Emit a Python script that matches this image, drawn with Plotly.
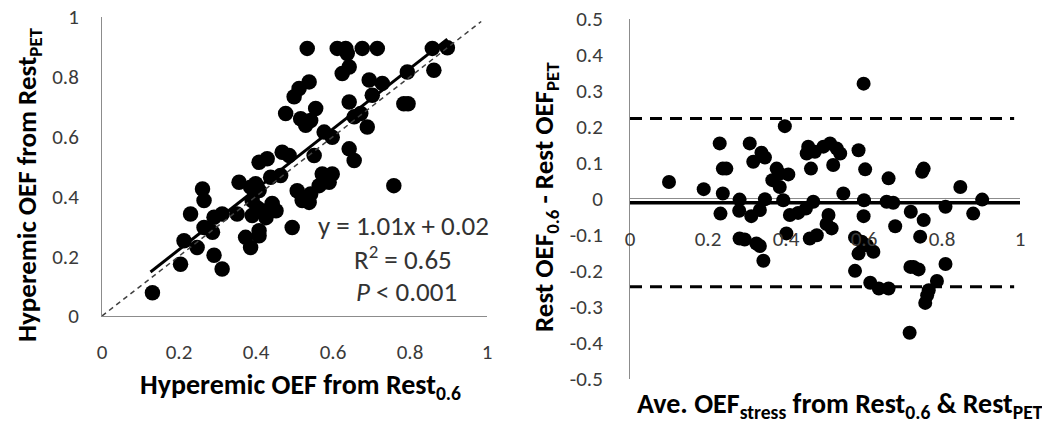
import plotly.graph_objects as go

# ---------------- data ----------------
# Left panel: Hyperemic OEF from Rest0.6 (x) vs from RestPET (y)
left_x = [0.131, 0.204, 0.213, 0.247, 0.230, 0.261, 0.265, 0.265, 0.287, 0.291,
          0.312, 0.291, 0.312, 0.351, 0.356, 0.373, 0.386, 0.390, 0.403, 0.416,
          0.390, 0.426, 0.442, 0.408, 0.408, 0.408, 0.399, 0.408, 0.429, 0.438,
          0.464, 0.442, 0.494, 0.468, 0.486, 0.551, 0.507, 0.520, 0.542, 0.538,
          0.564, 0.590, 0.572, 0.598, 0.642, 0.655, 0.577, 0.598, 0.689, 0.655,
          0.672, 0.516, 0.529, 0.542, 0.477, 0.555, 0.642, 0.784, 0.795, 0.702,
          0.499, 0.512, 0.538, 0.694, 0.728, 0.642, 0.624, 0.793, 0.862, 0.533,
          0.611, 0.633, 0.637, 0.676, 0.715, 0.858, 0.897, 0.758, 0.390, 0.386,
          0.452]
left_y = [0.078, 0.173, 0.252, 0.229, 0.341, 0.425, 0.386, 0.296, 0.280, 0.203,
          0.157, 0.330, 0.341, 0.341, 0.447, 0.263, 0.229, 0.386, 0.362, 0.352,
          0.336, 0.329, 0.362, 0.285, 0.268, 0.420, 0.442, 0.514, 0.526, 0.464,
          0.470, 0.376, 0.296, 0.548, 0.537, 0.537, 0.419, 0.386, 0.408, 0.380,
          0.436, 0.447, 0.475, 0.475, 0.559, 0.520, 0.615, 0.598, 0.632, 0.666,
          0.677, 0.660, 0.638, 0.654, 0.677, 0.694, 0.716, 0.710, 0.710, 0.738,
          0.733, 0.761, 0.783, 0.789, 0.778, 0.833, 0.811, 0.816, 0.822, 0.895,
          0.895, 0.895, 0.878, 0.895, 0.895, 0.895, 0.897, 0.436, 0.430, 0.431,
          0.352]
fit_slope = 1.01
fit_intercept = 0.02
fit_x_range = [0.126, 0.897]
identity_range = [0.0, 0.985]

# Right panel: Bland-Altman
ba_mean = [0.100, 0.189, 0.230, 0.238, 0.247, 0.238, 0.232, 0.281, 0.280, 0.311,
           0.333, 0.346, 0.307, 0.316, 0.337, 0.346, 0.281, 0.294, 0.324, 0.333,
           0.342, 0.397, 0.376, 0.384, 0.365, 0.384, 0.406, 0.393, 0.410, 0.431,
           0.401, 0.457, 0.474, 0.453, 0.464, 0.470, 0.451, 0.461, 0.479, 0.496,
           0.513, 0.530, 0.539, 0.521, 0.509, 0.504, 0.517, 0.547, 0.586, 0.599,
           0.603, 0.600, 0.599, 0.577, 0.594, 0.607, 0.624, 0.586, 0.577, 0.616,
           0.638, 0.663, 0.663, 0.658, 0.675, 0.680, 0.720, 0.744, 0.719, 0.727,
           0.740, 0.717, 0.749, 0.753, 0.753, 0.766, 0.762, 0.757, 0.787, 0.809,
           0.809, 0.847, 0.880, 0.903]
ba_diff = [0.046, 0.026, 0.153, 0.083, 0.083, 0.014, -0.042, -0.003, -0.034, -0.049,
           -0.032, -0.002, 0.153, 0.102, 0.127, 0.114, -0.111, -0.114, -0.125, -0.132,
           -0.173, 0.201, 0.083, 0.069, 0.051, 0.032, 0.067, -0.005, -0.046, -0.040,
           -0.097, 0.144, 0.130, 0.125, 0.083, -0.009, -0.028, -0.111, -0.102, 0.144,
           0.153, 0.139, 0.125, 0.093, -0.046, -0.071, -0.083, 0.014, 0.134, 0.319,
           0.081, -0.005, -0.049, -0.108, -0.120, -0.130, -0.148, -0.153, -0.201, -0.234,
           -0.250, -0.250, 0.056, -0.009, -0.012, -0.077, -0.037, -0.106, -0.190, -0.190,
           -0.197, -0.373, 0.074, 0.083, -0.060, -0.255, -0.269, -0.290, -0.229, -0.023,
           -0.182, 0.032, -0.042, -0.003]
ba_bias = -0.012
ba_upper = 0.222
ba_lower = -0.245

left_ticks = [0, 0.2, 0.4, 0.6, 0.8, 1]
left_ticktext = ["0", "0.2", "0.4", "0.6", "0.8", "1"]
right_yticks = [0.5, 0.4, 0.3, 0.2, 0.1, 0, -0.1, -0.2, -0.3, -0.4, -0.5]
right_yticktext = ["0.5", "0.4", "0.3", "0.2", "0.1", "0", "-0.1", "-0.2", "-0.3", "-0.4", "-0.5"]

# ---------------- figure ----------------
FONT = "Carlito, 'Liberation Sans Narrow', 'DejaVu Sans Condensed', Roboto, sans-serif"
TICKC = "#3a3a3a"
AXC = "#8c8c8c"

fig = go.Figure()

fig.add_trace(go.Scatter(x=left_x, y=left_y, mode="markers",
                         marker=dict(size=15.5, color="black"), xaxis="x", yaxis="y",
                         cliponaxis=False))
fx = fit_x_range
fig.add_trace(go.Scatter(x=fx, y=[fit_slope * v + fit_intercept for v in fx], mode="lines",
                         line=dict(color="black", width=3), xaxis="x", yaxis="y"))
fig.add_trace(go.Scatter(x=identity_range, y=identity_range, mode="lines",
                         line=dict(color="#404040", width=1.5, dash="5px,4px"),
                         xaxis="x", yaxis="y"))

# Right panel lines
fig.add_trace(go.Scatter(x=[0, 1.0], y=[0, 0], mode="lines",
                         line=dict(color=AXC, width=1), xaxis="x2", yaxis="y2"))
fig.add_trace(go.Scatter(x=[0, 1.01], y=[ba_bias, ba_bias], mode="lines",
                         line=dict(color="black", width=3.5), xaxis="x2", yaxis="y2"))
for lv in (ba_upper, ba_lower):
    fig.add_trace(go.Scatter(x=[0, 0.985], y=[lv, lv], mode="lines",
                             line=dict(color="black", width=3, dash="12px,8px"),
                             xaxis="x2", yaxis="y2"))
fig.add_trace(go.Scatter(x=ba_mean, y=ba_diff, mode="markers",
                         marker=dict(size=14, color="black"), xaxis="x2", yaxis="y2",
                         cliponaxis=False))

# page body adds an 8px margin; work in window pixels and convert
OFF = 8
W, H = 1050 - OFF, 426 - OFF


def PX(p):
    return (p - OFF) / W


def PY(p):
    return 1 - (p - OFF) / H


lx = [PX(102), PX(487)]
ly = [PY(316), PY(17)]
rx = [PX(630), PX(1020)]
ry = [PY(378.5), PY(18.5)]
zero_pos = ry[0] + (0 - (-0.5)) / 1.0 * (ry[1] - ry[0])

tickfont = dict(family=FONT, size=21, color=TICKC)
common = dict(showgrid=False, zeroline=False, ticks="", tickfont=tickfont,
              automargin=False, ticklabeloverflow="allow")

fig.update_layout(
    width=W, height=H, margin=dict(l=0, r=0, t=0, b=0, autoexpand=False),
    paper_bgcolor="white", plot_bgcolor="white", showlegend=False,
    font=dict(family=FONT),
    xaxis=dict(domain=lx, range=[0, 1], tickvals=left_ticks, ticktext=left_ticktext,
               showline=True, linecolor=AXC, linewidth=1,
               anchor="y", ticklabelstandoff=17, **common),
    yaxis=dict(domain=ly, range=[0, 1], tickvals=left_ticks, ticktext=left_ticktext,
               showline=True, linecolor=AXC, linewidth=1,
               anchor="x", ticklabelstandoff=18, **common),
    xaxis2=dict(domain=rx, range=[0, 1], tickvals=left_ticks, ticktext=left_ticktext,
                showline=False, anchor="free", position=zero_pos,
                ticklabelstandoff=25, **common),
    yaxis2=dict(domain=ry, range=[-0.5, 0.5], tickvals=right_yticks, ticktext=right_yticktext,
                showline=True, linecolor=AXC, linewidth=1,
                anchor="x2", ticklabelstandoff=22, **common),
)

xt_font = dict(family=FONT, size=28, color="black")
yt_font = dict(family=FONT, size=27, color="black")
ann = [
    dict(text="<b>Hyperemic OEF from Rest<sub>PET</sub></b>", x=PX(28), y=PY(185),
         textangle=-90, font=yt_font),
    dict(text="<b>Hyperemic OEF from Rest<sub>0.6</sub></b>", x=PX(300), y=PY(386),
         font=xt_font),
    dict(text="<b>Ave. OEF<sub>stress</sub> from Rest<sub>0.6</sub> &amp; Rest<sub>PET</sub></b>",
         x=PX(840), y=PY(405), font=xt_font),
    dict(text="<b>Rest OEF<sub>0.6</sub> - Rest OEF<sub>PET</sub></b>", x=PX(545), y=PY(197),
         textangle=-90, font=yt_font),
]
stat_font = dict(family=FONT, size=27, color="#333333")
ann += [
    dict(text="y = 1.01x + 0.02", x=PX(403), y=PY(225), font=stat_font),
    dict(text="R<sup>2</sup> = 0.65", x=PX(403), y=PY(258), font=stat_font),
    dict(text="<i>P</i> &lt; 0.001", x=PX(406), y=PY(291), font=stat_font),
]
for a in ann:
    a.update(xref="paper", yref="paper", showarrow=False, xanchor="center", yanchor="middle")
fig.update_layout(annotations=ann)

fig.write_html("out.html")
